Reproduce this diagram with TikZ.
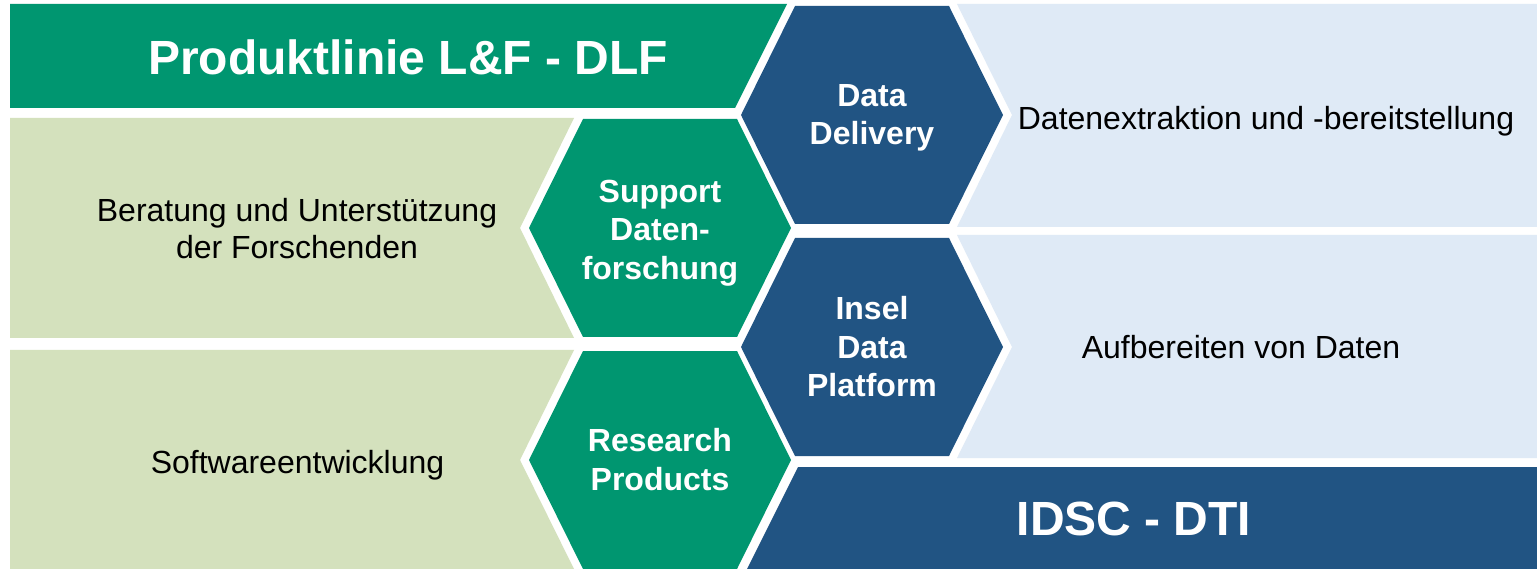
\documentclass[tikz,border=0pt]{standalone}
\usepackage{fontspec}
\setmainfont{Liberation Sans}
\definecolor{dlfgreen}{HTML}{009670}
\definecolor{idscblue}{HTML}{215483}
\definecolor{palegreen}{HTML}{D4E1BD}
\definecolor{paleblue}{HTML}{DFEAF6}
\tikzset{
  hexlabel/.style={text=white, inner sep=0pt, align=center, font=\fontsize{32}{38.5}\selectfont\bfseries},
  bodylabel/.style={text=black, inner sep=0pt, align=center, font=\fontsize{32}{36.6}\selectfont},
  titlelabel/.style={text=white, inner sep=0pt, align=center, font=\fontsize{48}{56}\selectfont\bfseries},
}
\begin{document}
\begin{tikzpicture}[x=1pt,y=-1pt]
\useasboundingbox (0,0) rectangle (1537,569);
\fill[white] (0,0) rectangle (1537,569);
% left side: green banner and pale green rows
\fill[dlfgreen] (10,4) -- (787,4) -- (735,108) -- (10,108) -- cycle;
\fill[palegreen] (10,118) -- (574,118) -- (520,228) -- (574,338) -- (10,338) -- cycle;
\fill[palegreen] (10,350) -- (574,350) -- (520,460) -- (574,569) -- (10,569) -- cycle;
% right side: pale blue rows and IDSC banner
\fill[paleblue] (957,4) -- (1537,4) -- (1537,227) -- (957,227) -- (1012,115) -- cycle;
\fill[paleblue] (957,235) -- (1537,235) -- (1537,458) -- (957,458) -- (1012,347) -- cycle;
\fill[idscblue] (798,467) -- (1537,467) -- (1537,569) -- (747,569) -- cycle;
% hexagons
\fill[idscblue] (795,6) -- (949,6) -- (1003,115) -- (949,224) -- (795,224) -- (741,115) -- cycle;
\fill[dlfgreen] (583,119) -- (737,119) -- (791,228) -- (737,337) -- (583,337) -- (529,228) -- cycle;
\fill[idscblue] (795,238) -- (949,238) -- (1003,347) -- (949,456) -- (795,456) -- (741,347) -- cycle;
\fill[dlfgreen] (583,351) -- (737,351) -- (791,460) -- (737,569) -- (583,569) -- (529,460) -- cycle;
% labels
\node[titlelabel] (dlf) at (408,57.5) {Produktlinie L\&F - DLF};
\node[titlelabel] (idsc) at (1134,519) {IDSC - DTI};
\node[hexlabel] (dd) at (872,117.7) {Data\\Delivery};
\node[hexlabel] (sd) at (660,233) {Support\\Daten-\\forschung};
\node[hexlabel] (idp) at (872,346.8) {Insel\\Data\\Platform};
\node[hexlabel] (rp) at (660,459.8) {Research\\Products};
\node[bodylabel] (ber) at (297,228.3) {Beratung und Unterstützung\\der Forschenden};
\node[bodylabel] (sw) at (297.5,464.8) {Softwareentwicklung};
\node[bodylabel] (dex) at (1266,120.8) {Datenextraktion und -bereitstellung};
\node[bodylabel] (auf) at (1241,347.3) {Aufbereiten von Daten};
\end{tikzpicture}
\end{document}
